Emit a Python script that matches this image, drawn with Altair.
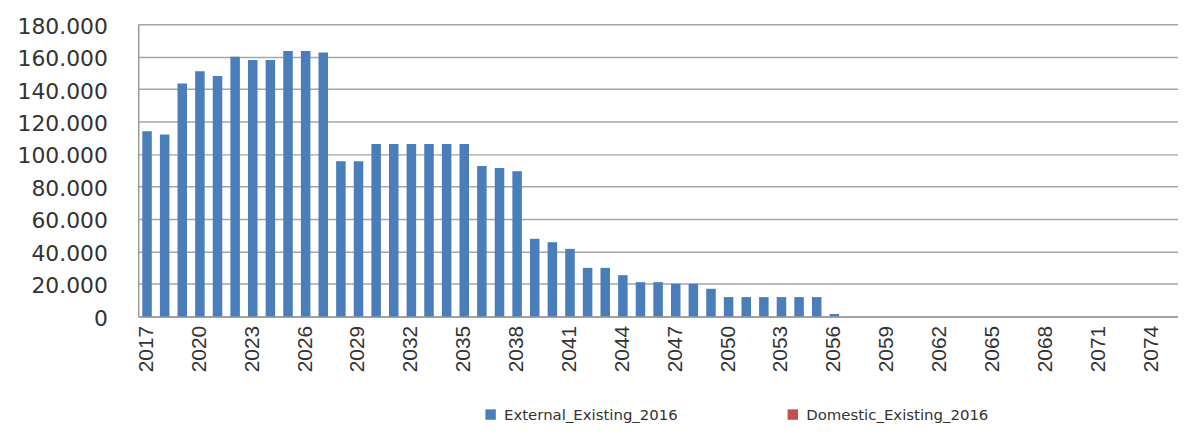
import altair as alt
import pandas as pd

years = list(range(2017, 2076))

external = [
    114000, 112000, 143500, 151000, 148000, 160000, 158000, 158000, 163500, 163500,
    162500, 95500, 95500, 106200, 106200, 106200, 106200, 106200, 106200, 92700,
    91400, 89400, 47800, 45700, 41600, 29900, 29900, 25400, 21100, 21100,
    20100, 20100, 17000, 11900, 11900, 11900, 11900, 11900, 11900, 1500,
    0, 0, 0, 0, 0, 0, 0, 0, 0, 0,
    0, 0, 0, 0, 0, 0, 0, 0, 0,
]

domestic = [
    0, 0, 0, 0, 0, 0, 0, 0, 0, 0,
    0, 0, 0, 0, 0, 0, 0, 0, 0, 0,
    0, 0, 0, 0, 0, 0, 0, 0, 0, 0,
    0, 0, 0, 0, 0, 0, 0, 0, 0, 0,
    0, 0, 0, 0, 0, 0, 0, 0, 0, 0,
    0, 0, 0, 0, 0, 0, 0, 0, 0,
]

series_names = ["External_Existing_2016", "Domestic_Existing_2016"]
series_colors = ["#4a7ebb", "#c0504d"]
tick_years = [2017, 2020, 2023, 2026, 2029, 2032, 2035, 2038, 2041, 2044,
              2047, 2050, 2053, 2056, 2059, 2062, 2065, 2068, 2071, 2074]
y_ticks = [0, 20000, 40000, 60000, 80000, 100000, 120000, 140000, 160000, 180000]

rows = []
for y, e, d in zip(years, external, domestic):
    rows.append({"year": y, "series": series_names[0], "value": e})
    rows.append({"year": y, "series": series_names[1], "value": d})
df = pd.DataFrame(rows)

chart = alt.Chart(df).mark_bar().encode(
    x=alt.X(
        "year:O",
        scale=alt.Scale(paddingInner=0.46, paddingOuter=0.23),
        axis=alt.Axis(
            values=tick_years,
            labelAngle=270,
            labelPadding=9,
            labelFont="Liberation Sans",
            labelFontSize=21,
            labelColor="#333333",
            ticks=False,
            grid=False,
            domainColor="#9a9a9a",
            domainWidth=1.5,
            title=None,
        ),
    ),
    y=alt.Y(
        "value:Q",
        stack="zero",
        scale=alt.Scale(domain=[0, 180000], nice=False),
        axis=alt.Axis(
            values=y_ticks,
            labelExpr="replace(format(datum.value, ','), ',', '.')",
            labelFont="DejaVu Sans",
            labelFontSize=22,
            labelColor="#333333",
            labelPadding=31,
            labelOffset=2,
            ticks=False,
            grid=True,
            gridColor="#a6a6a6",
            gridWidth=1.5,
            domainColor="#9a9a9a",
            domainWidth=1.5,
            title=None,
        ),
    ),
    color=alt.Color(
        "series:N",
        scale=alt.Scale(domain=series_names, range=series_colors),
        legend=alt.Legend(
            title=None,
            orient="none",
            legendX=347,
            legendY=385,
            direction="horizontal",
            symbolType="square",
            symbolSize=110,
            symbolStrokeWidth=0,
            labelFont="DejaVu Sans",
            labelFontSize=15,
            labelLimit=400,
            labelColor="#333333",
            labelOffset=6,
            columnPadding=108,
            padding=0,
        ),
    ),
    order=alt.Order("series:N", sort="descending"),
).properties(
    width=1046,
    height=294,
    padding={"left": 131, "top": 15, "right": 0, "bottom": 110},
    autosize=alt.AutoSizeParams(type="none"),
).configure_view(stroke=None)

chart.save("out.html", embed_options={"renderer": "svg", "actions": False})
